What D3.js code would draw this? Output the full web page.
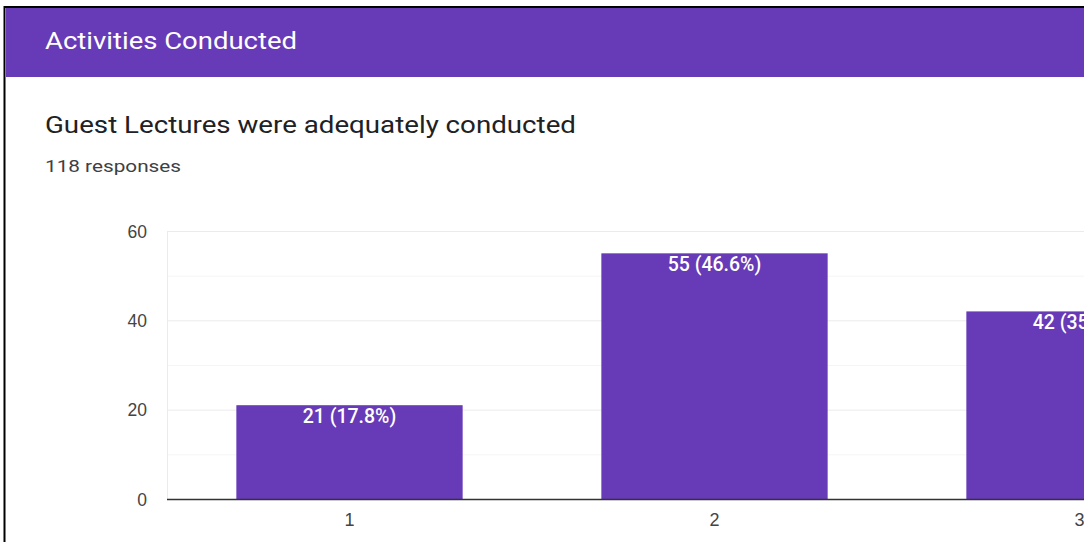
<!DOCTYPE html>
<html>
<head>
<meta charset="utf-8">
<script src="https://cdn.jsdelivr.net/npm/d3@7"></script>
<style>
  body { margin: 0; background: #fff; overflow: hidden; }
</style>
</head>
<body>
<div id="chart"></div>
<script>
// survey data
const categories = ["1", "2", "3", "4", "5"];
const counts = [21, 55, 42, 0, 0];
const yTicks = [0, 20, 40, 60];
const minorTicks = [10, 30, 50];
const headerText = "Activities Conducted";
const questionText = "Guest Lectures were adequately conducted";
const responsesText = "118 responses";

const width = 1084;
const height = 542;
const margin = {left: 167, top: 231, bottom: 43};
const purple = "#673ab7";

const total = d3.sum(counts);

const svg = d3.select("#chart")
  .append("svg")
  .attr("width", width)
  .attr("height", height);

// page frame + header
svg.append("rect")
  .attr("x", 4.5).attr("y", 7)
  .attr("width", width).attr("height", height)
  .attr("fill", "#fff")
  .attr("stroke", "#000")
  .attr("stroke-width", 2);

svg.append("rect")
  .attr("x", 6).attr("y", 8)
  .attr("width", width).attr("height", 69)
  .attr("fill", purple);

svg.append("text")
  .attr("x", 45).attr("y", 49)
  .attr("fill", "#fff")
  .attr("textLength", 252)
  .attr("lengthAdjust", "spacingAndGlyphs")
  .style("font-family", "Roboto, sans-serif")
  .style("font-size", "23px")
  .text(headerText);

svg.append("text")
  .attr("x", 45).attr("y", 133)
  .attr("fill", "#202124")
  .attr("textLength", 531)
  .attr("lengthAdjust", "spacingAndGlyphs")
  .style("font-family", "Roboto, sans-serif")
  .style("font-size", "23px")
  .text(questionText);

svg.append("text")
  .attr("x", 45).attr("y", 172)
  .attr("fill", "#3c4043")
  .attr("textLength", 136)
  .attr("lengthAdjust", "spacingAndGlyphs")
  .style("font-family", "Roboto, sans-serif")
  .style("font-size", "16.5px")
  .text(responsesText);

// scales
const x = d3.scaleBand()
  .domain(categories)
  .range([margin.left, margin.left + 365 * categories.length])
  .paddingInner(0.38)
  .paddingOuter(0.19);

const y = d3.scaleLinear()
  .domain([0, 60])
  .range([height - margin.bottom, margin.top]);

// gridlines
svg.append("g")
  .selectAll("line")
  .data(minorTicks)
  .join("line")
  .attr("x1", margin.left).attr("x2", width)
  .attr("y1", d => y(d) + 0.5).attr("y2", d => y(d) + 0.5)
  .attr("stroke", "#f5f5f5");

svg.append("g")
  .selectAll("line")
  .data(yTicks.slice(1))
  .join("line")
  .attr("x1", margin.left).attr("x2", width)
  .attr("y1", d => y(d) + 0.5).attr("y2", d => y(d) + 0.5)
  .attr("stroke", "#ebebeb");

svg.append("line")
  .attr("x1", margin.left + 0.5).attr("x2", margin.left + 0.5)
  .attr("y1", y(60)).attr("y2", y(0))
  .attr("stroke", "#ebebeb");

// y axis labels
const yAxis = svg.append("g")
  .attr("transform", `translate(${margin.left - 20},0)`)
  .call(d3.axisLeft(y).tickValues(yTicks).tickSize(0).tickPadding(0));
yAxis.select(".domain").remove();
yAxis.selectAll("text")
  .attr("fill", "#444")
  .attr("dy", "0.36em")
  .style("font-family", "Arial, 'Liberation Sans', sans-serif")
  .style("font-size", "17.5px");

// bars
svg.append("g")
  .selectAll("rect")
  .data(counts)
  .join("rect")
  .attr("x", (d, i) => x(categories[i]))
  .attr("y", d => y(d))
  .attr("width", x.bandwidth())
  .attr("height", d => y(0) - y(d))
  .attr("fill", purple);

svg.append("g")
  .selectAll("text")
  .data(counts.filter(d => d > 0))
  .join("text")
  .attr("x", (d, i) => x(categories[i]) + x.bandwidth() / 2)
  .attr("y", d => y(d) + 18)
  .attr("text-anchor", "middle")
  .attr("fill", "#fff")
  .style("font-family", "Roboto, Arial, sans-serif")
  .style("font-size", "19.5px")
  .style("font-weight", "500")
  .text(d => `${d} (${(d / total * 100).toFixed(1)}%)`);

// x axis
const xAxis = svg.append("g")
  .attr("transform", `translate(0,${y(0)})`)
  .call(d3.axisBottom(x).tickSize(0).tickPadding(0));
xAxis.select(".domain")
  .attr("stroke", "#333")
  .attr("stroke-width", 1.5)
  .attr("d", `M${margin.left},0.5H${width}`);
xAxis.selectAll("text")
  .attr("fill", "#444")
  .attr("dy", null)
  .attr("y", 27)
  .style("font-family", "Arial, 'Liberation Sans', sans-serif")
  .style("font-size", "18px");
</script>
</body>
</html>
